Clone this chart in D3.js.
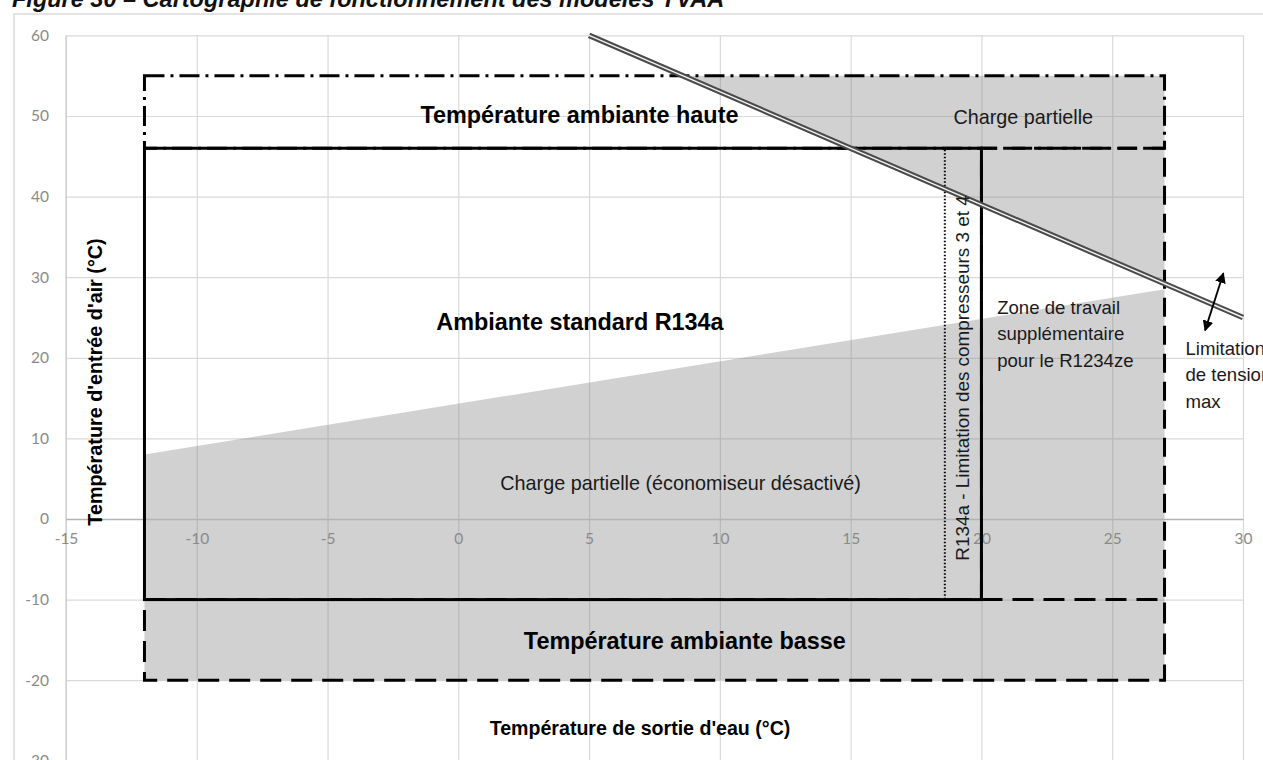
<!DOCTYPE html>
<html><head><meta charset="utf-8">
<script src="https://cdn.jsdelivr.net/npm/d3@7"></script>
<style>
html,body{margin:0;padding:0;background:#fff;overflow:hidden}
svg{display:block}
</style></head><body>
<svg id="chart" width="1263" height="760"></svg>
<script>
// ---- data ----
const xTicks = [-15,-10,-5,0,5,10,15,20,25,30];
const yTicks = [-30,-20,-10,0,10,20,30,40,50,60];
const highAmbientX = [-12, 27],  highAmbientY = [46, 55];
const standardX = [-12, 20],     standardY = [-10, 46];
const compressorLimitX = [18.6, 20], compressorLimitY = [-10, 46];
const extraZoneX = [20, 27],     extraZoneY = [-10, 46];
const lowAmbientX = [-12, 27],   lowAmbientY = [-20, -10];
const ecoOffArea = [[-12, 8], [27, 28.5], [27, -20], [-12, -20]];
const highPartialArea = [[8.6, 55], [27, 55], [27, 29.2]];
const voltageLimitLine = [[5, 60], [30, 25]];
const voltageArrow = [[29.25, 30.5], [28.55, 23.4]];
const titleText = "Figure 30 – Cartographie de fonctionnement des modèles YVAA";
const xTitle = "Température de sortie d'eau (°C)";
const yTitle = "Température d'entrée d'air (°C)";
const zoneLabels = [
  {t:"Température ambiante haute", x:4.63, y:50.1, cls:"big"},
  {t:"Charge partielle", x:21.6, y:49.9, cls:"reg"},
  {t:"Ambiante standard R134a", x:4.65, y:24.4, cls:"big"},
  {t:"Charge partielle (économiseur désactivé)", x:8.5, y:4.45, cls:"reg"},
  {t:"Température ambiante basse", x:8.66, y:-15.1, cls:"big"}
];
const extraZoneLines = ["Zone de travail", "supplémentaire", "pour le R1234ze"];
const extraZoneAnchor = [20.6, 26.3];
const voltageLines = ["Limitation", "de tension", "max"];
const voltageAnchor = [27.8, 21.2];
const compressorText = "R134a - Limitation des compresseurs 3 et 4";
const compressorAnchor = [19.29, 17.5];

// ---- drawing ----
const svg = d3.select("#chart");
const x = d3.scaleLinear().domain([-15, 30]).range([66, 1243]);
const y = d3.scaleLinear().domain([-30, 60]).range([760.8, 35.4]);
const SANS = "'Liberation Sans', Arial, sans-serif";
const TICKF = "Lato, 'Open Sans', sans-serif";
const fmt = d => String(d);

// title (cut at the top, as in the source)
svg.append("text").attr("x", 12).attr("y", 7)
  .attr("font-family", SANS).attr("font-weight", "bold").attr("font-style", "italic")
  .attr("font-size", 23.5).attr("fill", "#111").text(titleText);

// chart area border
svg.append("rect").attr("x", 14).attr("y", 14).attr("width", 1320).attr("height", 800)
  .attr("fill", "none").attr("stroke", "#e3e3e3").attr("stroke-width", 2);

// gridlines
const gx = svg.append("g").attr("transform", `translate(0,${y(-30)})`)
  .call(d3.axisBottom(x).tickValues(xTicks).tickSize(-(y(-30) - y(60))).tickFormat(""));
gx.select(".domain").remove();
gx.selectAll("line").attr("stroke", "#d9d9d9").attr("stroke-width", 1.2);
const gy = svg.append("g").attr("transform", `translate(${x(-15)},0)`)
  .call(d3.axisLeft(y).tickValues(yTicks).tickSize(-(x(30) - x(-15))).tickFormat(""));
gy.select(".domain").remove();
gy.selectAll("line").attr("stroke", "#d9d9d9").attr("stroke-width", 1.2);

// y axis line
svg.append("line").attr("x1", x(-15)).attr("x2", x(-15)).attr("y1", y(60)).attr("y2", y(-30))
  .attr("stroke", "#cfcfcf").attr("stroke-width", 1.3);

// fills
const line = d3.line().x(d => x(d[0])).y(d => y(d[1]));
svg.append("path").datum(ecoOffArea).attr("d", d3.line().x(d => x(d[0])).y(d => y(d[1])).curve(d3.curveLinearClosed))
  .attr("fill", "#808080").attr("fill-opacity", 0.36);
svg.append("path").datum(highPartialArea).attr("d", line)
  .attr("fill", "#808080").attr("fill-opacity", 0.36);

// x axis at 0 with labels
const ax = svg.append("g").attr("transform", `translate(0,${y(0)})`)
  .call(d3.axisBottom(x).tickValues(xTicks).tickSize(0).tickPadding(14).tickFormat(fmt));
ax.select(".domain").attr("stroke", "#b3b3b3").attr("stroke-width", 1.4);
ax.selectAll("text").attr("font-family", TICKF).attr("font-size", 15.5).attr("fill", "#8a8a8a");
const ay = svg.append("g").attr("transform", `translate(${x(-15)},0)`)
  .call(d3.axisLeft(y).tickValues(yTicks).tickSize(0).tickPadding(17).tickFormat(fmt));
ay.select(".domain").remove();
ay.selectAll("text").attr("font-family", TICKF).attr("font-size", 15.5).attr("fill", "#8a8a8a");

// boxes
function box(xs, ys, dash, w) {
  svg.append("rect")
    .attr("x", x(xs[0])).attr("y", y(ys[1]))
    .attr("width", x(xs[1]) - x(xs[0])).attr("height", y(ys[0]) - y(ys[1]))
    .attr("fill", "none").attr("stroke", "#000").attr("stroke-width", w)
    .attr("stroke-dasharray", dash);
}
box(highAmbientX, highAmbientY, "20,6,3,6", 3);
box(lowAmbientX, lowAmbientY, "21,10", 3);
// extra zone: its bottom edge is shared with the low-ambient box
svg.append("path")
  .datum([[extraZoneX[0], extraZoneY[0]], [extraZoneX[0], extraZoneY[1]], [extraZoneX[1], extraZoneY[1]], [extraZoneX[1], extraZoneY[0]]])
  .attr("d", line).attr("fill", "none").attr("stroke", "#000").attr("stroke-width", 3)
  .attr("stroke-dasharray", "19,9");
box(compressorLimitX, compressorLimitY, "1.5,2", 2);
box(standardX, standardY, null, 3);

// voltage limit double line
svg.append("path").datum(voltageLimitLine).attr("d", line)
  .attr("stroke", "#4a4a4a").attr("stroke-width", 5.5).attr("fill", "none");
svg.append("path").datum(voltageLimitLine).attr("d", line)
  .attr("stroke", "#f4f4f4").attr("stroke-width", 1.4).attr("fill", "none");

// arrow
const defs = svg.append("defs");
defs.append("marker").attr("id", "ah").attr("viewBox", "0 0 10 10").attr("refX", 9).attr("refY", 5)
  .attr("markerWidth", 6).attr("markerHeight", 6).attr("orient", "auto-start-reverse")
  .attr("markerUnits", "strokeWidth")
  .append("path").attr("d", "M0,0 L10,5 L0,10 z").attr("fill", "#000");
svg.append("path").datum(voltageArrow).attr("d", line)
  .attr("stroke", "#000").attr("stroke-width", 1.8).attr("fill", "none")
  .attr("marker-start", "url(#ah)").attr("marker-end", "url(#ah)");

// zone labels
svg.selectAll("text.zone").data(zoneLabels).enter().append("text")
  .attr("class", "zone")
  .attr("x", d => x(d.x)).attr("y", d => y(d.y))
  .attr("text-anchor", "middle").attr("dominant-baseline", "central")
  .attr("font-family", SANS)
  .attr("font-weight", d => d.cls === "big" ? "bold" : "normal")
  .attr("font-size", d => d.cls === "big" ? 23.4 : 19.8)
  .attr("fill", d => d.cls === "big" ? "#000" : "#1a1a1a")
  .text(d => d.t);

svg.selectAll("text.extra").data(extraZoneLines).enter().append("text")
  .attr("class", "extra")
  .attr("x", x(extraZoneAnchor[0])).attr("y", (d, i) => y(extraZoneAnchor[1]) + i * 26.5)
  .attr("dominant-baseline", "central")
  .attr("font-family", SANS).attr("font-size", 18.6).attr("fill", "#1a1a1a").text(d => d);

svg.selectAll("text.volt").data(voltageLines).enter().append("text")
  .attr("class", "volt")
  .attr("x", x(voltageAnchor[0])).attr("y", (d, i) => y(voltageAnchor[1]) + i * 26.5)
  .attr("dominant-baseline", "central")
  .attr("font-family", SANS).attr("font-size", 18.6).attr("fill", "#1a1a1a").text(d => d);

svg.append("text")
  .attr("transform", `translate(${x(compressorAnchor[0])},${y(compressorAnchor[1])}) rotate(-90)`)
  .attr("text-anchor", "middle").attr("dominant-baseline", "central")
  .attr("font-family", SANS).attr("font-size", 18.9).attr("fill", "#1a1a1a")
  .text(compressorText);

// axis titles
svg.append("text").attr("x", 640).attr("y", 728)
  .attr("text-anchor", "middle").attr("dominant-baseline", "central")
  .attr("font-family", SANS).attr("font-weight", "bold").attr("font-size", 19.6).attr("fill", "#000")
  .text(xTitle);
svg.append("text")
  .attr("transform", `translate(95,382) rotate(-90)`)
  .attr("text-anchor", "middle").attr("dominant-baseline", "central")
  .attr("font-family", SANS).attr("font-weight", "bold").attr("font-size", 19.8).attr("fill", "#000")
  .text(yTitle);
</script>
</body></html>
